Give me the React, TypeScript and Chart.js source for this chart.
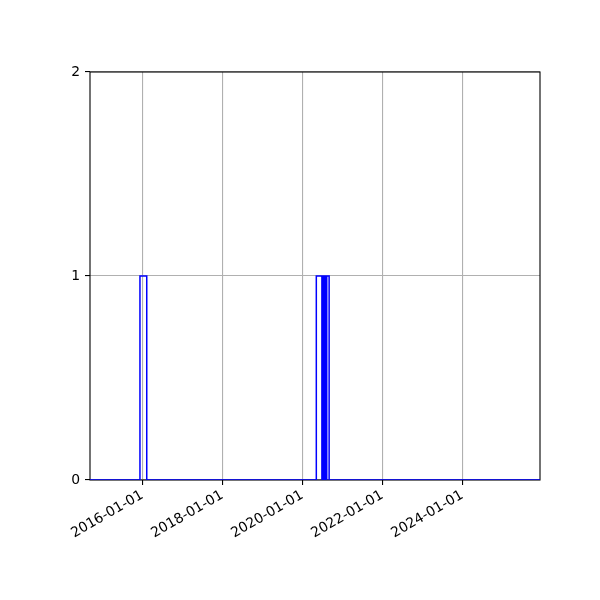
import React, { useEffect, useRef } from "react";
import { Chart, registerables } from "chart.js";

Chart.register(...registerables);

// Step series: value holds from each date until the next one
const stepDates = [
  "2014-09-11",
  "2015-12-11",
  "2016-02-11",
  "2020-05-08",
  "2020-06-28",
  "2020-07-03",
  "2020-07-10",
  "2020-07-17",
  "2020-07-24",
  "2020-07-31",
  "2020-08-07",
  "2020-08-11",
  "2020-09-02",
  "2025-12-10",
];
const stepValues = [0, 1, 0, 1, 0, 1, 0, 1, 0, 1, 0, 1, 0, 0];

const xTickLabels = ["2016-01-01", "2018-01-01", "2020-01-01", "2022-01-01", "2024-01-01"];
const xMinDate = "2014-09-11";
const xMaxDate = "2025-12-10";
const yTicks = [0, 1, 2];

const toMs = (s: string) => Date.parse(s + "T00:00:00Z");
const fmt = (ms: number) => new Date(ms).toISOString().slice(0, 10);

const framePlugin = {
  id: "frame",
  beforeDatasetsDraw(chart: any) {
    const { ctx, chartArea } = chart;
    ctx.save();
    ctx.strokeStyle = "#000000";
    ctx.lineWidth = 1.1;
    ctx.strokeRect(chartArea.left, chartArea.top, chartArea.right - chartArea.left, chartArea.bottom - chartArea.top);
    ctx.restore();
  },
};

export default function App() {
  const ref = useRef<HTMLCanvasElement>(null);
  useEffect(() => {
    if (!ref.current) return;
    const data = stepDates.map((d, i) => ({ x: toMs(d), y: stepValues[i] }));
    const font = { family: "DejaVu Sans", size: 13.9 };
    const chart = new Chart(ref.current, {
      type: "line",
      data: {
        datasets: [
          {
            data,
            stepped: "before",
            borderColor: "#0000ff",
            borderWidth: 1.5,
            pointRadius: 0,
            fill: false,
          },
        ],
      },
      plugins: [framePlugin],
      options: {
        animation: false,
        responsive: false,
        devicePixelRatio: 1,
        layout: { padding: { left: 0, top: 72, right: 60, bottom: 0 } },
        plugins: { legend: { display: false }, tooltip: { enabled: false } },
        scales: {
          x: {
            type: "linear",
            min: toMs(xMinDate),
            max: toMs(xMaxDate),
            afterBuildTicks: (scale: any) => {
              scale.ticks = xTickLabels.map((s) => ({ value: toMs(s) }));
            },
            afterFit: (scale: any) => {
              scale.height = 120;
            },
            ticks: {
              autoSkip: false,
              minRotation: 30,
              maxRotation: 30,
              padding: 2,
              color: "#000000",
              font,
              callback: (v: any) => fmt(Number(v)),
            },
            grid: { color: "#b0b0b0", lineWidth: 1.1, tickColor: "#000000", tickLength: 5, drawTicks: true },
            border: { display: false },
          },
          y: {
            type: "linear",
            min: 0,
            max: 2,
            afterBuildTicks: (scale: any) => {
              scale.ticks = yTicks.map((v) => ({ value: v }));
            },
            afterFit: (scale: any) => {
              scale.width = 90;
            },
            ticks: {
              padding: 5,
              color: "#000000",
              font,
              callback: (v: any) => String(v),
            },
            grid: { color: "#b0b0b0", lineWidth: 1.1, tickColor: "#000000", tickLength: 5 },
            border: { display: false },
          },
        },
      },
    } as any);
    return () => chart.destroy();
  }, []);
  return (
    <div style={{ position: "fixed", left: 0, top: 0, width: 600, height: 600, background: "#ffffff" }}>
      <canvas ref={ref} width={600} height={600} />
    </div>
  );
}
